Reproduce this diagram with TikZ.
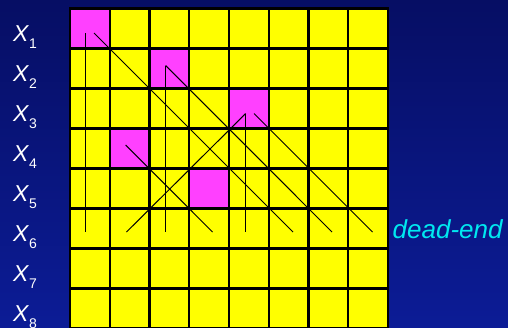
\documentclass[tikz,border=0pt]{standalone}
\usepackage{fontspec}
\setmainfont{Liberation Sans}
\definecolor{bgtop}{RGB}{6,14,100}
\definecolor{bgbot}{RGB}{12,28,150}
\definecolor{qmag}{RGB}{255,64,255}
\definecolor{cellyel}{RGB}{255,255,0}
\definecolor{deadcyan}{RGB}{0,232,240}
\begin{document}
\begin{tikzpicture}[x=1pt,y=-1pt,
  cell/.style={draw=black, line width=2.4pt, fill=cellyel, minimum width=39.75pt, minimum height=40pt, inner sep=0pt, outer sep=0pt, anchor=north west},
  queen/.style={cell, fill=qmag},
  track/.style={black, line width=1pt},
  lab/.style={text=white, anchor=base west, inner sep=0pt, font=\fontsize{23}{23}\selectfont\itshape}]
\useasboundingbox (0,0) rectangle (508,327);
\shade[top color=bgtop, bottom color=bgbot] (0,0) rectangle (508,327);
% grid
\foreach \r in {1,...,8}{
  \foreach \c in {1,...,8}{
    \node[cell] (c\r-\c) at ({70+39.75*(\c-1)},{8.5+40*(\r-1)}) {};
  }
}
\node[queen] (q1) at (70,8.5) {};
\node[queen] (q2) at ({70+39.75*2},48.5) {};
\node[queen] (q3) at ({70+39.75*4},88.5) {};
\node[queen] (q4) at ({70+39.75*1},128.5) {};
\node[queen] (q5) at ({70+39.75*3},168.5) {};
% labels
\foreach \i in {1,...,8}{
  \node[lab] (x\i) at (13,{41+40*(\i-1)}) {X\raisebox{-7pt}{\fontsize{14}{14}\selectfont\upshape\kern0.5pt\i}};
}
\node[anchor=base west, text=deadcyan, inner sep=0pt, font=\fontsize{26}{26}\selectfont\itshape] (de) at (392.5,238.5) {dead-end};
% track coordinates
\coordinate (a1) at (85.5,33);   \coordinate (a1e) at (85.5,232);
\coordinate (b1) at (94,33);     \coordinate (b1e) at (293,232);
\coordinate (a2) at (165.7,65.5);\coordinate (a2e) at (165.7,232);
\coordinate (b2e) at (332,232);
\coordinate (a3) at (245.7,113.5);\coordinate (a3e) at (245.7,232);
\coordinate (d3e) at (126.5,232);
\coordinate (b3) at (254,113.5); \coordinate (b3e) at (372.5,232);
\coordinate (b4) at (125.7,145); \coordinate (b4e) at (212.5,232);
\draw[track] (a1) -- (a1e);
\draw[track] (b1) -- (b1e);
\draw[track] (a2) -- (a2e);
\draw[track] (a2) -- (b2e);
\draw[track] (a3) -- (a3e);
\draw[track] (a3) -- (d3e);
\draw[track] (b3) -- (b3e);
\draw[track] (b4) -- (b4e);
\end{tikzpicture}
\end{document}
